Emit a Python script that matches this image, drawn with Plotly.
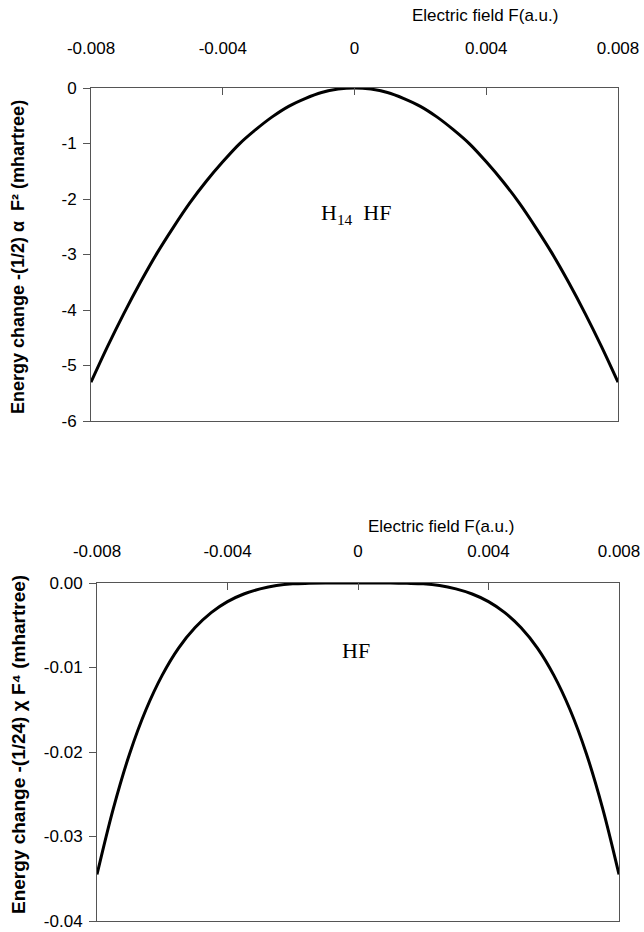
import plotly.graph_objects as go

# Electric field values (a.u.)
field = [-0.008, -0.0075, -0.007, -0.0065, -0.006, -0.0055, -0.005, -0.0045, -0.004,
         -0.0035, -0.003, -0.0025, -0.002, -0.0015, -0.001, -0.0005, 0.0,
         0.0005, 0.001, 0.0015, 0.002, 0.0025, 0.003, 0.0035, 0.004,
         0.0045, 0.005, 0.0055, 0.006, 0.0065, 0.007, 0.0075, 0.008]

# Top panel: -(1/2) alpha F^2 (mhartree)
energy_alpha = [-5.30, -4.66, -4.06, -3.50, -2.98, -2.51, -2.07, -1.68, -1.33,
                -1.01, -0.75, -0.52, -0.33, -0.19, -0.08, -0.02, 0.0,
                -0.02, -0.08, -0.19, -0.33, -0.52, -0.75, -1.01, -1.33,
                -1.68, -2.07, -2.51, -2.98, -3.50, -4.06, -4.66, -5.30]

# Bottom panel: -(1/24) chi F^4 (mhartree)
energy_chi = [-0.0345, -0.0267, -0.0202, -0.0150, -0.0109, -0.0077, -0.0053, -0.0035, -0.0022,
              -0.0013, -0.0007, -0.0003, -0.0001, -0.00004, -0.00001, 0.0, 0.0,
              0.0, -0.00001, -0.00004, -0.0001, -0.0003, -0.0007, -0.0013, -0.0022,
              -0.0035, -0.0053, -0.0077, -0.0109, -0.0150, -0.0202, -0.0267, -0.0345]

x_tickvals = [-0.008, -0.004, 0, 0.004, 0.008]
x_ticktext = ["-0.008", "-0.004", "0", "0.004", "0.008"]
y1_tickvals = [0, -1, -2, -3, -4, -5, -6]
y1_ticktext = ["0", "-1", "-2", "-3", "-4", "-5", "-6"]
y2_tickvals = [0, -0.01, -0.02, -0.03, -0.04]
y2_ticktext = ["0.00", "-0.01", "-0.02", "-0.03", "-0.04"]

W, H = 644, 932
def px(x): return x / W
def py(y): return 1 - y / H

fig = go.Figure()
fig.add_trace(go.Scatter(x=field, y=energy_alpha, mode="lines", line=dict(color="black", width=3, shape="spline"),
                         xaxis="x", yaxis="y", showlegend=False))
fig.add_trace(go.Scatter(x=field, y=energy_chi, mode="lines", line=dict(color="black", width=3, shape="spline"),
                         xaxis="x2", yaxis="y2", showlegend=False))

xtickfont = dict(family="Liberation Sans, Arial", size=17, color="black")
ytickfont = dict(family="Liberation Sans, Arial", size=17, color="black")
axcommon = dict(showline=True, linecolor="#555", linewidth=1, showgrid=False, zeroline=False, mirror=True,
                tickcolor="#555", ticklen=7, automargin=False)

fig.update_layout(
    width=W, height=H, margin=dict(l=0, r=0, t=0, b=0),
    plot_bgcolor="white", paper_bgcolor="white",
    xaxis=dict(domain=[px(91), px(618)], anchor="y", side="top", range=[-0.008, 0.008],
               tickvals=x_tickvals, ticktext=x_ticktext, ticks="inside", ticklabelstandoff=26,
               tickfont=xtickfont, **axcommon),
    yaxis=dict(domain=[py(421), py(88)], anchor="x", range=[-6, 0],
               tickvals=y1_tickvals, ticktext=y1_ticktext, ticks="outside", ticklabelstandoff=3,
               tickfont=ytickfont, **axcommon),
    xaxis2=dict(domain=[px(97), px(619)], anchor="y2", side="top", range=[-0.008, 0.008],
                tickvals=x_tickvals, ticktext=x_ticktext, ticks="inside", ticklabelstandoff=18,
                tickfont=xtickfont, **axcommon),
    yaxis2=dict(domain=[py(921), py(583)], anchor="x2", range=[-0.04, 0],
                tickvals=y2_tickvals, ticktext=y2_ticktext, ticks="outside", ticklabelstandoff=3,
                tickfont=ytickfont, **axcommon),
)

titlefont = dict(family="Liberation Sans, Arial", size=17, color="black")
serif = dict(family="Liberation Serif, Times New Roman", size=22, color="black")

fig.add_annotation(text="Electric field F(a.u.)", x=px(485), y=py(15), xref="paper", yref="paper",
                   showarrow=False, font=titlefont, xanchor="center", yanchor="middle")
fig.add_annotation(text="Electric field F(a.u.)", x=px(441), y=py(526), xref="paper", yref="paper",
                   showarrow=False, font=titlefont, xanchor="center", yanchor="middle")
fig.add_annotation(text="<b>Energy change -(1/2) α  F² (mhartree)</b>", x=px(18), y=py(257),
                   xref="paper", yref="paper", showarrow=False, textangle=-90,
                   font=dict(family="Liberation Sans, Arial", size=18, color="black"),
                   xanchor="center", yanchor="middle")
fig.add_annotation(text="<b>Energy change -(1/24) χ F⁴ (mhartree)</b>", x=px(18), y=py(745),
                   xref="paper", yref="paper", showarrow=False, textangle=-90,
                   font=dict(family="Liberation Sans, Arial", size=19, color="black"),
                   xanchor="center", yanchor="middle")
fig.add_annotation(text="H<sub>14</sub>  HF", x=px(356), y=py(214), xref="paper", yref="paper",
                   showarrow=False, font=serif, xanchor="center", yanchor="middle")
fig.add_annotation(text="HF", x=px(356), y=py(650), xref="paper", yref="paper",
                   showarrow=False, font=serif, xanchor="center", yanchor="middle")

fig.write_html("out.html")
